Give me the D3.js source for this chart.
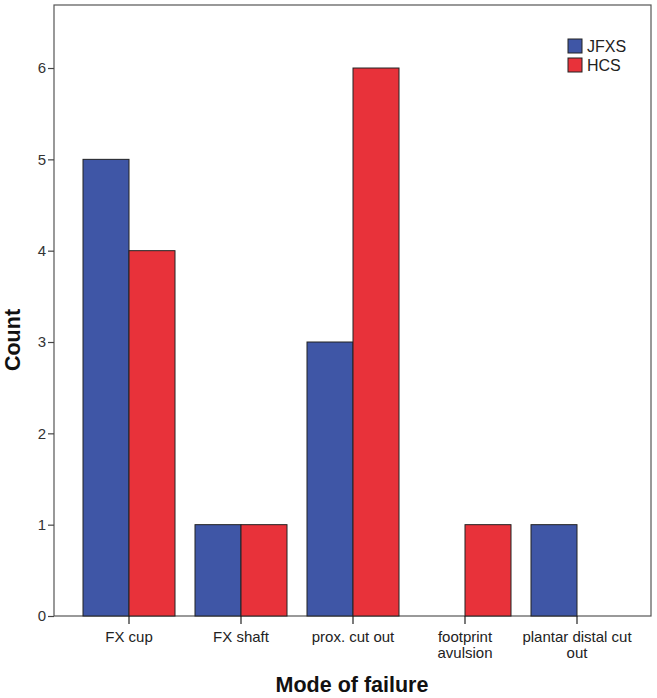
<!DOCTYPE html>
<html>
<head>
<meta charset="utf-8">
<script src="https://cdn.jsdelivr.net/npm/d3@7"></script>
<style>
  html, body { margin: 0; padding: 0; background: #fff; }
  svg { display: block; }
  text { font-family: "Liberation Sans", Arial, Helvetica, sans-serif; }
</style>
</head>
<body>
<svg id="chart" width="657" height="698"></svg>
<script>
const categories = [["FX cup"], ["FX shaft"], ["prox. cut out"], ["footprint", "avulsion"], ["plantar distal cut", "out"]];
const categoryKeys = ["FX cup", "FX shaft", "prox. cut out", "footprint avulsion", "plantar distal cut out"];
const seriesNames = ["JFXS", "HCS"];
const jfxsValues = [5, 1, 3, 0, 1];
const hcsValues = [4, 1, 6, 1, 0];
const yTicks = [0, 1, 2, 3, 4, 5, 6];
const seriesColors = ["#3f56a6", "#e8323a"];

const svg = d3.select("#chart");
const frame = { left: 54, right: 651, top: 5, bottom: 616 };

const y = d3.scaleLinear().domain([0, 6.69]).range([frame.bottom, frame.top]);
const x = d3.scaleBand().domain(categoryKeys).range([73, 633]).paddingInner(0).paddingOuter(0);
const xInner = d3.scaleBand().domain(seriesNames).range([10, x.bandwidth() - 10]);

const data = categoryKeys.map((c, i) => ({ cat: c, vals: [jfxsValues[i], hcsValues[i]] }));

// frame
svg.append("rect")
  .attr("x", frame.left).attr("y", frame.top)
  .attr("width", frame.right - frame.left).attr("height", frame.bottom - frame.top)
  .attr("fill", "none").attr("stroke", "#555").attr("stroke-width", 1.2);

// bars
const groups = svg.append("g").selectAll("g").data(data).join("g")
  .attr("transform", d => `translate(${x(d.cat)},0)`);
groups.selectAll("rect")
  .data(d => d.vals.map((v, j) => ({ s: seriesNames[j], v, j })).filter(e => e.v > 0))
  .join("rect")
  .attr("x", e => xInner(e.s))
  .attr("width", xInner.bandwidth())
  .attr("y", e => y(e.v))
  .attr("height", e => y(0) - y(e.v))
  .attr("fill", e => seriesColors[e.j])
  .attr("stroke", "#222").attr("stroke-width", 1);

// y axis
const yAxis = d3.axisLeft(y).tickValues(yTicks).tickFormat(d3.format("d")).tickSize(6).tickPadding(2);
const yg = svg.append("g").attr("transform", `translate(${frame.left},0)`).call(yAxis);
yg.select(".domain").remove();
yg.selectAll(".tick line").attr("stroke", "#444").attr("stroke-width", 1.2);
yg.selectAll(".tick text").attr("fill", "#333").style("font-size", "15px");

// x axis
const xAxis = d3.axisBottom(x).tickSize(8).tickFormat("").tickSizeOuter(0);
const xg = svg.append("g").attr("transform", `translate(0,${frame.bottom})`).call(xAxis);
xg.select(".domain").remove();
xg.selectAll(".tick line").attr("stroke", "#222").attr("stroke-width", 1.2);

const labelLines = [];
categories.forEach((lines, i) => lines.forEach((t, k) => labelLines.push({ i, k, t })));
svg.append("g").selectAll("text").data(labelLines).join("text")
  .attr("x", d => x(categoryKeys[d.i]) + x.bandwidth() / 2)
  .attr("y", d => 642 + d.k * 16)
  .attr("text-anchor", "middle")
  .attr("fill", "#222")
  .style("font-size", "15px")
  .text(d => d.t);

// axis titles
svg.append("text")
  .attr("x", 352).attr("y", 692)
  .attr("text-anchor", "middle")
  .style("font-size", "21.5px").style("font-weight", "bold")
  .attr("fill", "#111")
  .text("Mode of failure");

svg.append("text")
  .attr("transform", "translate(20,340) rotate(-90)")
  .attr("text-anchor", "middle")
  .style("font-size", "21.5px").style("font-weight", "bold")
  .attr("fill", "#111")
  .text("Count");

// legend
const legend = svg.append("g").attr("transform", "translate(568,39)");
const li = legend.selectAll("g").data(seriesNames).join("g")
  .attr("transform", (d, i) => `translate(0,${i * 19})`);
li.append("rect").attr("width", 14).attr("height", 14)
  .attr("fill", (d, i) => seriesColors[i]).attr("stroke", "#222").attr("stroke-width", 1);
li.append("text").attr("x", 19).attr("y", 13)
  .style("font-size", "16px").attr("fill", "#222").text(d => d);
</script>
</body>
</html>
